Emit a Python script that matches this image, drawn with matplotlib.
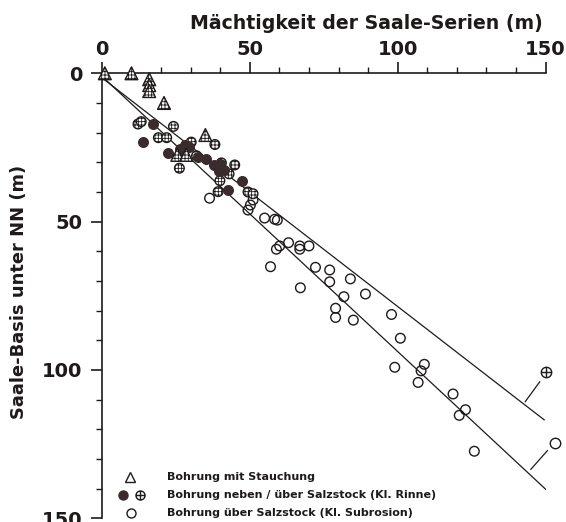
import matplotlib
matplotlib.use('Agg')
import matplotlib.pyplot as plt
from matplotlib.path import Path
import numpy as np

plt.rcParams['font.family'] = ['DejaVu Sans']
plt.rcParams['hatch.linewidth'] = 0.6

# ---------------- data (metres) ----------------
# Bohrung mit Stauchung (triangles)
tri_x = [1, 10, 16, 16, 16, 21, 35, 25.5, 28.5]
tri_y = [0, 0, 2, 4, 6, 10, 20.8, 27.5, 27.5]

# Bohrung neben Salzstock (filled circles)
fill_x = [17.3, 14.0, 22.5, 26.5, 28.0, 29.5, 27.0, 32.6, 35.2, 38.0, 40.0, 39.5, 41.2, 47.3, 42.8]
fill_y = [17.0, 23.0, 27.0, 25.5, 24.3, 24.8, 26.5, 28.1, 28.8, 31.0, 30.5, 33.0, 32.5, 36.2, 39.3]

# Bohrung ueber Salzstock, Kl. Rinne (circle-plus)
plus_x = [12.2, 13.3, 24.2, 19.1, 21.9, 30.2, 38.2, 32.0, 26.2, 44.9, 43.0, 39.9, 39.3, 49.4, 51.1, 40.4]
plus_y = [17.1, 16.3, 17.9, 21.7, 21.7, 23.2, 24.0, 27.8, 32.0, 30.9, 33.9, 36.2, 39.9, 40.0, 40.6, 30.2]

# Bohrung ueber Salzstock, Kl. Subrosion (open circles)
open_x = [36.4, 51.1, 50.2, 49.4, 55.0, 58.4, 59.3, 59.0, 60.1, 63.1, 66.9, 66.9, 70.0,
          57.0, 72.2, 77.0, 77.0, 84.0, 67.1, 81.8, 89.1, 79.0, 79.0, 85.0, 97.9,
          100.9, 99.0, 109.0, 107.9, 106.9, 118.7, 122.9, 120.8, 125.9]
open_y = [42.1, 42.7, 44.4, 46.1, 48.8, 49.2, 49.5, 59.3, 58.2, 57.1, 58.2, 59.3, 58.2,
          65.2, 65.4, 66.3, 70.3, 69.3, 72.3, 75.3, 74.4, 79.2, 82.3, 83.2, 81.3,
          89.3, 99.1, 98.1, 100.3, 104.2, 108.1, 113.4, 115.3, 127.4]

# Trend lines (x range and y at both ends)
rinne_line_x = [0, 149.5]
rinne_line_y = [1.5, 116.8]
subr_line_x = [0, 150]
subr_line_y = [1.0, 140.2]

# Line labels (leader segment and symbol)
rinne_lead_x = [143.1, 148.0]
rinne_lead_y = [110.7, 104.0]
rinne_sym = (150.2, 100.8)
subr_lead_x = [145.0, 150.6]
subr_lead_y = [133.5, 127.2]
subr_sym = (153.1, 124.7)

x_ticks = [0, 50, 100, 150]
y_ticks = [0, 50, 100, 150]

legend_labels = ['Bohrung mit Stauchung',
                 'Bohrung neben / über Salzstock (Kl. Rinne)',
                 'Bohrung über Salzstock (Kl. Subrosion)']

# ---------------- styling ----------------
ink = '#1e1a1a'
fillc = '#3a2c2c'

circ = Path.unit_circle()
oplus = Path.make_compound_path(circ,
                                Path([(-1, 0), (1, 0)], [Path.MOVETO, Path.LINETO]),
                                Path([(0, -1), (0, 1)], [Path.MOVETO, Path.LINETO]))

fig = plt.figure(figsize=(5.66, 5.22), dpi=100)
ax = fig.add_axes([0.180, 0.0071, 0.784, 0.8525])

ax.set_xlim(0, 150)
ax.set_ylim(150, 0)

# trend lines
ax.plot(rinne_line_x, rinne_line_y, color=ink, lw=0.9, zorder=2)
ax.plot(subr_line_x, subr_line_y, color=ink, lw=0.9, zorder=2)

# markers
ax.scatter(open_x, open_y, s=48, marker='o', facecolors='none', edgecolors=ink,
           linewidths=1.0, zorder=3)
ax.scatter(plus_x, plus_y, s=48, marker='o', facecolors='white', edgecolors=ink,
           linewidths=1.0, hatch='+++++', zorder=4)
ax.scatter(fill_x, fill_y, s=48, marker='o', facecolors=fillc, edgecolors=fillc,
           linewidths=1.0, zorder=5)
ax.scatter(tri_x, tri_y, s=85, marker='^', facecolors='white', edgecolors=ink,
           linewidths=1.0, hatch='+++++', zorder=6, clip_on=False)

# line labels
ax.plot(rinne_lead_x, rinne_lead_y, color=ink, lw=0.9, clip_on=False)
ax.plot(subr_lead_x, subr_lead_y, color=ink, lw=0.9, clip_on=False)
ax.plot([rinne_sym[0]], [rinne_sym[1]], marker=oplus, ms=7.5, mfc='none', mec=ink,
        mew=1.0, ls='none', clip_on=False)
ax.plot([subr_sym[0]], [subr_sym[1]], marker='o', ms=7.5, mfc='none', mec=ink,
        mew=1.0, ls='none', clip_on=False)

# axes styling
for s in ['right', 'bottom']:
    ax.spines[s].set_visible(False)
for s in ['left', 'top']:
    ax.spines[s].set_linewidth(1.2)
    ax.spines[s].set_color(ink)

ax.xaxis.tick_top()
ax.set_xticks(x_ticks)
ax.set_yticks(y_ticks)
ax.set_xticks(np.arange(0, 151, 10), minor=True)
ax.set_yticks(np.arange(0, 151, 10), minor=True)
ax.tick_params(axis='both', which='major', length=8, width=1.2, color=ink,
               labelsize=14, labelcolor=ink)
ax.tick_params(axis='both', which='minor', length=4, width=1.0, color=ink)
ax.tick_params(axis='x', which='major', pad=2)
ax.tick_params(axis='y', which='major', pad=6)
for lab in ax.get_xticklabels() + ax.get_yticklabels():
    lab.set_fontweight('bold')

ax.text(0.595, 1.113, 'Mächtigkeit der Saale-Serien (m)', transform=ax.transAxes,
        ha='center', va='center', fontsize=13.6, fontweight='bold', color=ink)
ax.text(-0.187, 0.5085, 'Saale-Basis unter NN (m)', transform=ax.transAxes,
        ha='center', va='center', rotation=90, fontsize=12.9, fontweight='bold', color=ink)

# legend (drawn by hand)
rows = [136.1, 142.2, 148.2]
tx = 22
ax.plot([9.5], [rows[0]], marker='^', ms=7.5, mfc='none', mec=ink, mew=1.0, ls='none', clip_on=False)
ax.plot([7.1], [rows[1]], marker='o', ms=6.5, mfc=fillc, mec=fillc, mew=1.0, ls='none', clip_on=False)
ax.plot([12.9], [rows[1]], marker=oplus, ms=6.5, mfc='none', mec=ink, mew=1.0, ls='none', clip_on=False)
ax.plot([9.8], [rows[2]], marker='o', ms=6.5, mfc='none', mec=ink, mew=1.0, ls='none', clip_on=False)
for r, lab in zip(rows, legend_labels):
    ax.text(tx, r, lab, ha='left', va='center', fontsize=8, fontweight='bold',
            color=ink, clip_on=False)

fig.savefig('out.png', dpi=100)
